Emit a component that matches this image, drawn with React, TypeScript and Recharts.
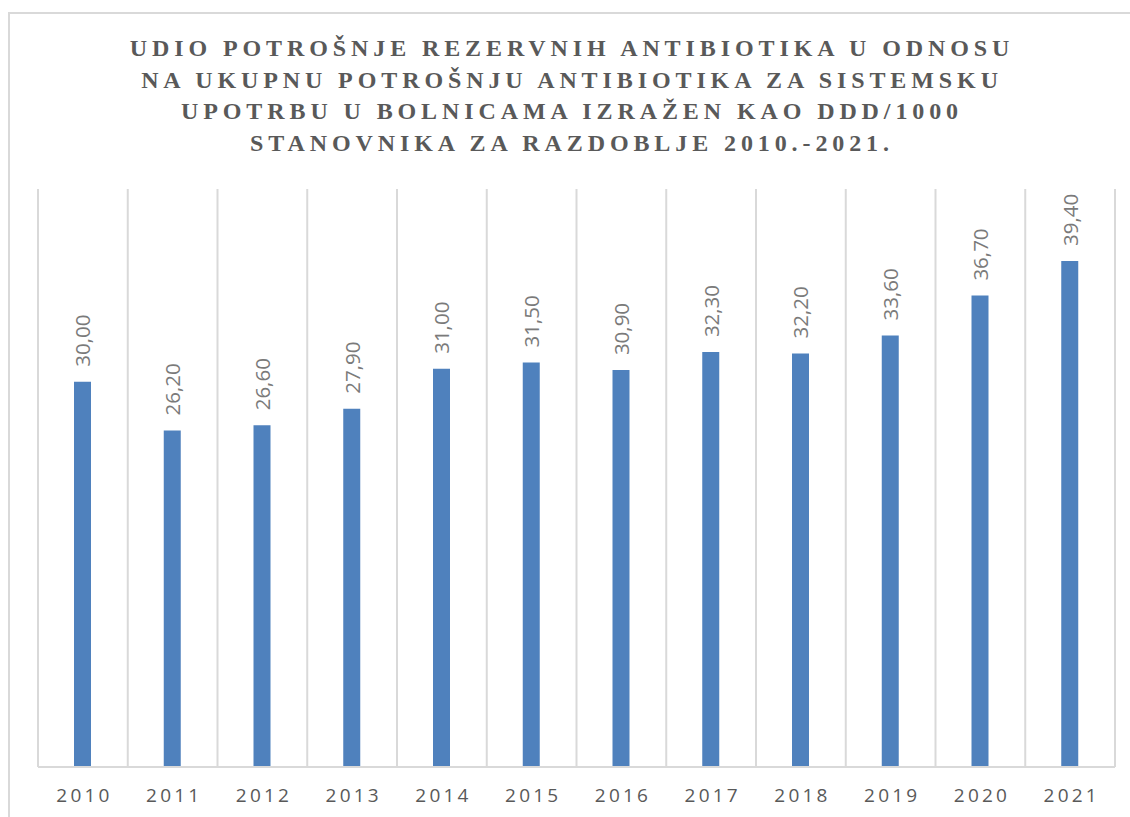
import React from "react"
import { BarChart, Bar, XAxis, YAxis, CartesianGrid, LabelList } from "recharts"

const years = ["2010", "2011", "2012", "2013", "2014", "2015", "2016", "2017", "2018", "2019", "2020", "2021"]
const shares = [30.0, 26.2, 26.6, 27.9, 31.0, 31.5, 30.9, 32.3, 32.2, 33.6, 36.7, 39.4]
const titleLines = [
  "UDIO POTROŠNJE REZERVNIH ANTIBIOTIKA U ODNOSU",
  "NA UKUPNU POTROŠNJU ANTIBIOTIKA ZA SISTEMSKU",
  "UPOTRBU U BOLNICAMA IZRAŽEN KAO DDD/1000",
  "STANOVNIKA ZA RAZDOBLJE 2010.-2021.",
]

const data = years.map((year, i) => ({ year, value: shares[i] }))

const fmt = (v: number) => v.toFixed(2).replace(".", ",")

const YearTick = (props: any) => {
  const { x, y, payload } = props
  return (
    <text
      x={x + 1.6}
      y={y + 27}
      textAnchor="middle"
      fill="#595959"
      fontSize={19}
      fontFamily="'Open Sans', sans-serif"
      letterSpacing={3.2}
    >
      {payload.value}
    </text>
  )
}

const ValueLabel = (props: any) => {
  const { x, y, width, value } = props
  const cx = x + width / 2
  const cy = y - 15
  return (
    <text
      x={cx}
      y={cy}
      transform={`rotate(-90 ${cx} ${cy})`}
      textAnchor="start"
      dominantBaseline="central"
      fill="#7a7a7a"
      fontSize={20.5}
      fontFamily="'Open Sans', sans-serif"
    >
      {fmt(value)}
    </text>
  )
}

export default function App() {
  return (
    <div style={{ position: "relative", width: 1130, height: 817, overflow: "hidden", background: "#fff" }}>
      <style>{`body{margin:0;overflow:hidden}`}</style>
      <div
        style={{
          position: "absolute",
          left: 8,
          top: 12,
          width: 1130,
          height: 820,
          border: "2px solid #d9d9d9",
          boxSizing: "border-box",
        }}
      />
      <div
        style={{
          position: "absolute",
          left: 8,
          top: 33,
          width: 1128,
          textAlign: "center",
          fontFamily: "'Liberation Serif', 'Times New Roman', serif",
          fontWeight: "bold",
          fontSize: 24,
          lineHeight: "31.5px",
          letterSpacing: 4.9,
          color: "#595959",
        }}
      >
        {titleLines.map((l) => (
          <div key={l}>{l}</div>
        ))}
      </div>
      <div style={{ position: "absolute", left: 10, top: 14 }}>
        <BarChart width={1120} height={803} data={data} margin={{ top: 175, right: 15, bottom: 20, left: 28 }}>
          <CartesianGrid
            horizontal={false}
            stroke="#d9d9d9"
            strokeWidth={2}
            verticalCoordinatesGenerator={({ offset }: any) =>
              years.concat([""]).map((_, i) => offset.left + (offset.width * i) / years.length)
            }
          />
          <XAxis
            dataKey="year"
            axisLine={{ stroke: "#d9d9d9", strokeWidth: 2 }}
            tickLine={false}
            tick={<YearTick />}
            height={30}
            interval={0}
          />
          <YAxis hide domain={[0, 45]} />
          <Bar dataKey="value" fill="#4F81BD" barSize={17} isAnimationActive={false}>
            <LabelList dataKey="value" content={<ValueLabel />} />
          </Bar>
        </BarChart>
      </div>
    </div>
  )
}
